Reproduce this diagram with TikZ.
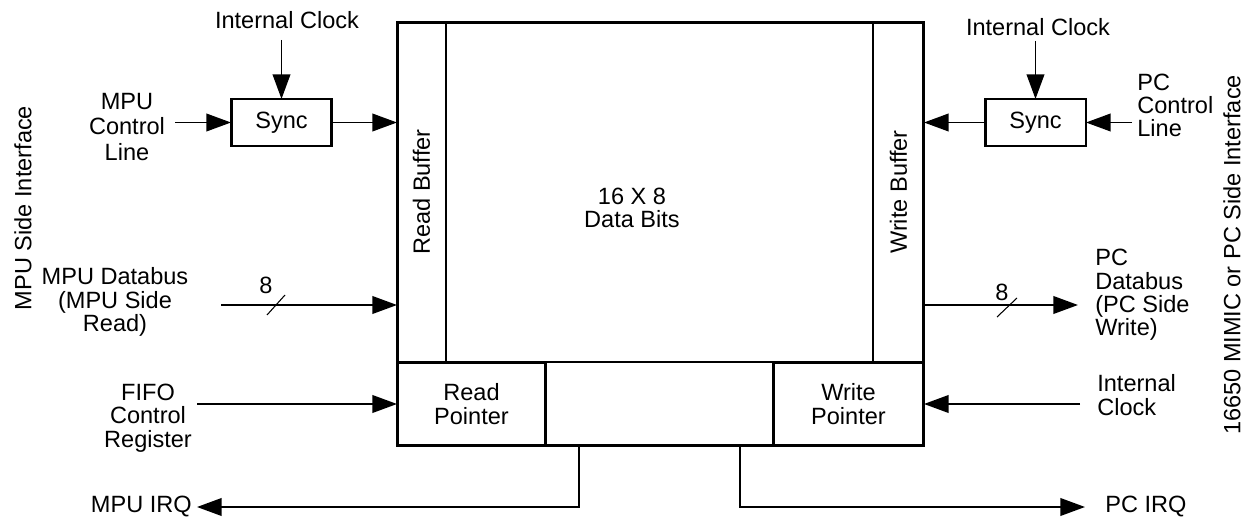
\documentclass[tikz,border=0pt]{standalone}
\usepackage{fontspec}
\setmainfont{Liberation Sans}
\usetikzlibrary{arrows.meta}

\tikzset{
	lbl/.style={inner sep=0.1cm, font=\fontsize{13.4pt}{13.3pt}\selectfont},
	sig/.style={line width=1.1pt, -{Triangle[length=14pt,width=10pt]}},
	frame/.style={line width=1.7pt},
	cell/.style={draw, line width=1.1pt, outer sep=0, inner sep=0},
	ptr/.style={draw, line width=1.7pt, outer sep=0, inner sep=0, align=center, font=\fontsize{13.4pt}{13.3pt}\selectfont},
	busmark/.style={line width=0.6pt}
}

\begin{document}
\begin{tikzpicture}[x={(0.02cm,0)},y={(0,-0.02cm)}]
		\useasboundingbox (0,0) rectangle (1249,517);
		% FIFO array
		\node[cell, minimum width=0.98cm, minimum height=6.8cm,
			label={[lbl, rotate=90]center:Read Buffer}] (rbuf) at (421.5,192) {};
		\node[cell, minimum width=1.02cm, minimum height=6.8cm,
			label={[lbl, rotate=90]center:Write Buffer}] (wbuf) at (898.5,192) {};
		\node[lbl, align=center] (data) at (632,208) {16 X 8\\Data Bits};
		\node[cell, minimum width=10.54cm, minimum height=1.68cm] (ctrl) at (660.5,404) {};
		\node[ptr, minimum width=2.98cm, minimum height=1.68cm] (rptr) at (471.5,404) {Read\\Pointer};
		\node[ptr, minimum width=3.02cm, minimum height=1.68cm] (wptr) at (848.5,404) {Write\\Pointer};
		\draw[frame] (rbuf.north west) rectangle (wptr.south east);
		\node[ptr, minimum width=2.02cm, minimum height=0.94cm] (syncL) at (281.5,122.5) {Sync};
		\node[ptr, minimum width=2.02cm, minimum height=0.94cm] (syncR) at (1035.5,122.5) {Sync};

		% MPU side
		\node[lbl, rotate=90] (mpuside) at (23,208) {MPU Side Interface};
		\node[lbl] (clkL) at (287,20) {Internal Clock};
		\node[lbl, align=center, font=\fontsize{13.4pt}{14.7pt}\selectfont] (mpuctl) at (127,127) {MPU\\Control\\Line};
		\node[lbl, align=center] (mpudb) at (115,302) {MPU Databus\\(MPU Side\\Read)};
		\node[lbl, align=center] (fifo) at (148,418) {FIFO\\Control\\Register};
		\node[lbl, anchor=east] (mpuirq) at (197,507) {MPU IRQ};
		\node[lbl] (nL) at (266,285) {8};
		\coordinate (dbin) at (221,305);

		\draw[sig, shorten <=0.12cm] (clkL.south -| syncL) -- (syncL.north);
		\draw[sig, shorten <=0.1cm] (mpuctl.east |- syncL) -- (syncL.west);
		\draw[sig] (syncL.east) -- (syncL.east -| rbuf.west);
		\draw[sig] (dbin) -- (dbin -| rbuf.west);
		\draw[busmark] (267,315) -- (285,295);
		\draw[sig] (fifo.east |- rptr.west) -- (rptr.west);
		\draw[sig] ([xshift=0.66cm]rptr.south east) |- (mpuirq.east);

		% PC side
		\node[lbl, rotate=90] (pcside) at (1232,255) {16650 MIMIC or PC Side Interface};
		\node[lbl] (clkR) at (1038,27) {Internal Clock};
		\node[lbl, anchor=west, align=left] (pcctl) at (1132,105.5) {PC\\Control\\Line};
		\node[lbl, anchor=west, align=left] (pcdb) at (1090,295) {PC\\Databus\\(PC Side\\Write)};
		\node[lbl, anchor=west, align=left] (clkB) at (1092,395) {Internal\\Clock};
		\node[lbl, anchor=west] (pcirq) at (1100,507) {PC IRQ};
		\node[lbl] (nR) at (1002,292) {8};
		\coordinate (dbout) at (1078,305);

		\draw[sig] (clkR.south -| syncR) -- (syncR.north);
		\draw[sig] (pcctl.west |- syncR) -- (syncR.east);
		\draw[sig] (syncR.west) -- (syncR.west -| wbuf.east);
		\draw[sig] (wbuf.east |- dbout) -- (dbout);
		\draw[busmark] (997,317) -- (1017,298);
		\draw[sig, shorten <=0.24cm] (clkB.west |- wptr) -- (wptr.east);
		\draw[sig, shorten >=0.3cm] ([xshift=-0.66cm]wptr.south west) |- (pcirq.west);
	\end{tikzpicture}
\end{document}
